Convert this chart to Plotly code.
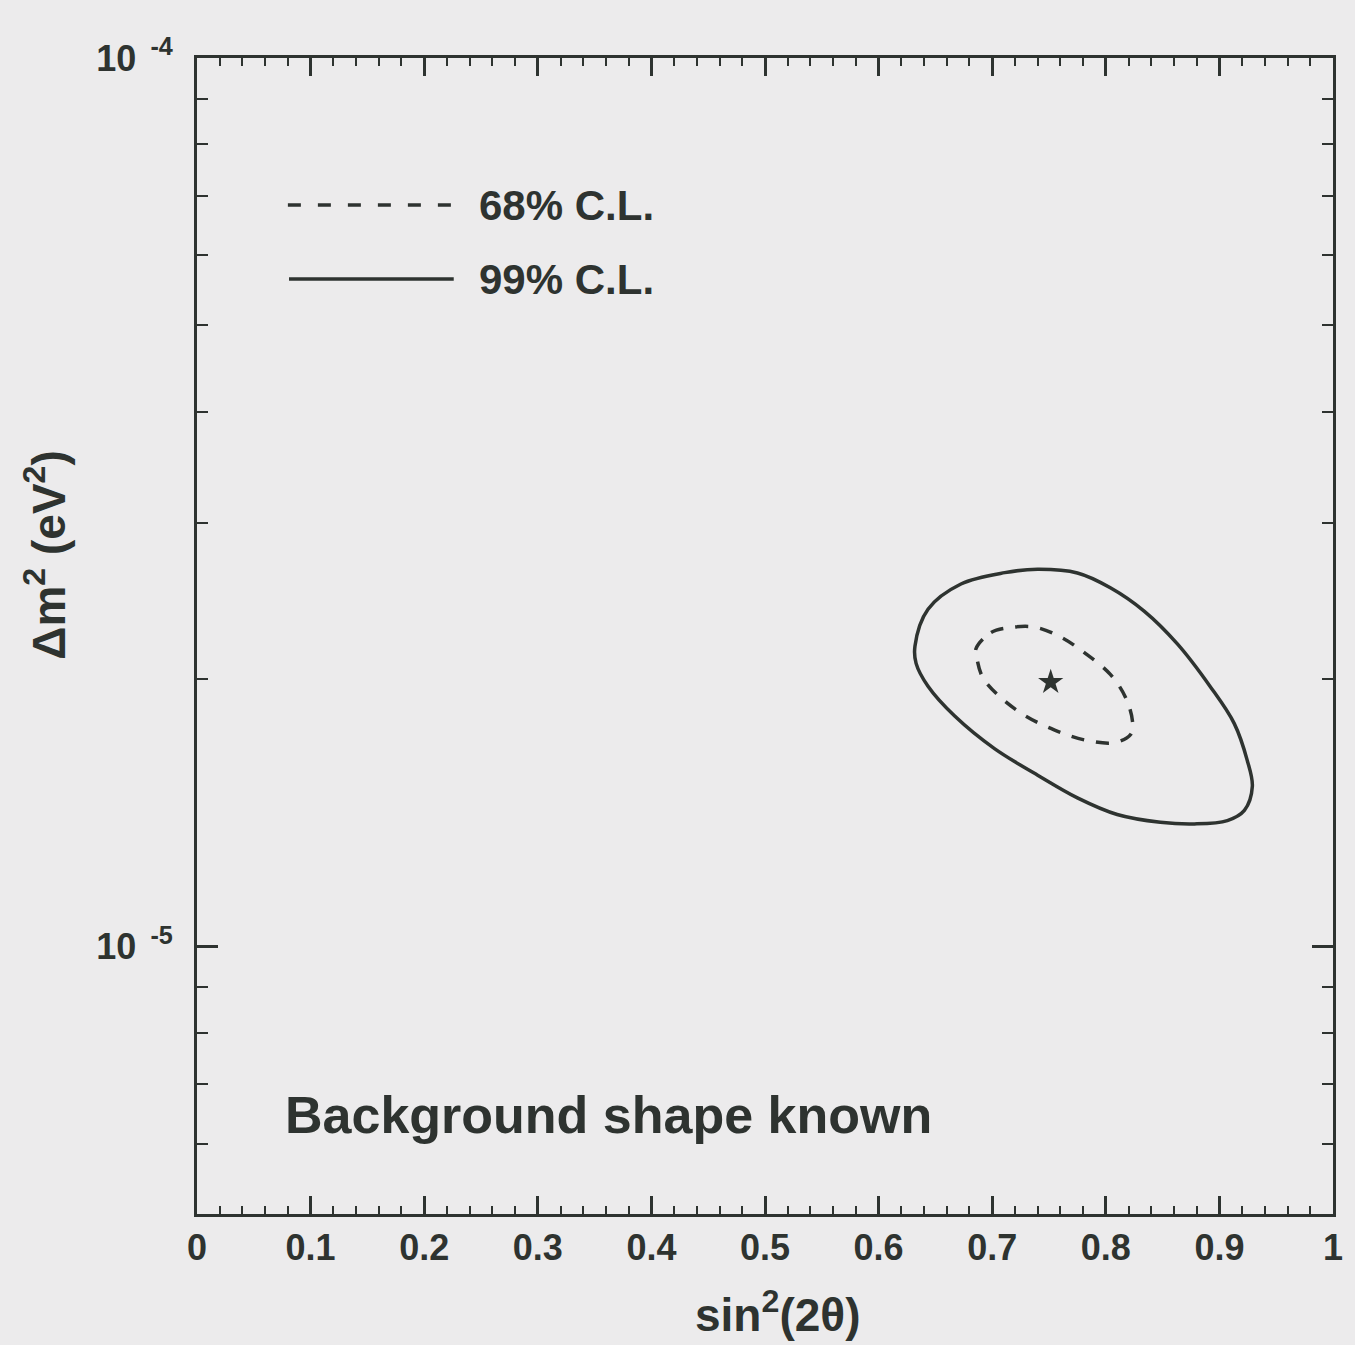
import plotly.graph_objects as go

# 99% C.L. contour (sin^2(2theta), delta m^2 [eV^2])
cl99_x = [0.632, 0.6435, 0.6725, 0.711, 0.740, 0.775, 0.804, 0.834, 0.863, 0.892, 0.913,
          0.9245, 0.929, 0.922, 0.907, 0.878, 0.848, 0.810, 0.775, 0.740, 0.702, 0.667,
          0.6435, 0.633]
cl99_y = [2.178e-5, 2.397e-5, 2.559e-5, 2.635e-5, 2.658e-5, 2.633e-5, 2.534e-5, 2.384e-5,
          2.191e-5, 1.961e-5, 1.783e-5, 1.620e-5, 1.514e-5, 1.423e-5, 1.386e-5, 1.374e-5,
          1.380e-5, 1.408e-5, 1.470e-5, 1.559e-5, 1.670e-5, 1.817e-5, 1.963e-5, 2.083e-5]

# 68% C.L. contour
cl68_x = [0.6857, 0.699, 0.7164, 0.7375, 0.7603, 0.7814, 0.804, 0.8174, 0.8235, 0.822,
          0.8077, 0.7814, 0.755, 0.7287, 0.7076, 0.6918, 0.6866]
cl68_y = [2.163e-5, 2.256e-5, 2.286e-5, 2.288e-5, 2.230e-5, 2.140e-5, 2.024e-5, 1.907e-5,
          1.792e-5, 1.733e-5, 1.696e-5, 1.708e-5, 1.752e-5, 1.820e-5, 1.906e-5, 2.007e-5,
          2.108e-5]

# best fit point
best_x = [0.7515]
best_y = [1.984e-5]

x_tick_vals = [0, 0.1, 0.2, 0.3, 0.4, 0.5, 0.6, 0.7, 0.8, 0.9, 1.0]
x_tick_text = ["0", "0.1", "0.2", "0.3", "0.4", "0.5", "0.6", "0.7", "0.8", "0.9", "1"]
y_tick_vals = [1e-5, 1e-4]
y_tick_text = ["10<sup>&nbsp;&nbsp;-5</sup>", "10<sup>&nbsp;&nbsp;-4</sup>"]
y_minor_vals = [m * 1e-6 for m in range(5, 10)] + [m * 1e-5 for m in range(2, 10)]

legend_labels = ["68% C.L.", "99% C.L."]
panel_label = "Background shape known"

INK = "#2e3330"
BG = "#ecebec"
FONT = "Liberation Sans, Arial, sans-serif"

fig = go.Figure()
fig.add_trace(go.Scatter(
    x=cl99_x + cl99_x[:1], y=cl99_y + cl99_y[:1], mode="lines",
    line=dict(color=INK, width=3.5, shape="spline", smoothing=1.0),
    showlegend=False, hoverinfo="skip"))
fig.add_trace(go.Scatter(
    x=cl68_x + cl68_x[:1], y=cl68_y + cl68_y[:1], mode="lines",
    line=dict(color=INK, width=3.5, shape="spline", smoothing=1.0, dash="13px,12px"),
    showlegend=False, hoverinfo="skip"))
fig.add_trace(go.Scatter(
    x=best_x, y=best_y, mode="markers",
    marker=dict(symbol="star", size=19, color=INK),
    showlegend=False, hoverinfo="skip"))

# legend drawn manually
fig.add_shape(type="line", xref="paper", yref="paper", x0=0.080, x1=0.226, y0=0.8728, y1=0.8728,
              line=dict(color=INK, width=3.5, dash="13px,17px"))
fig.add_shape(type="line", xref="paper", yref="paper", x0=0.081, x1=0.226, y0=0.8088, y1=0.8088,
              line=dict(color=INK, width=3.5))
fig.add_annotation(xref="paper", yref="paper", x=0.2465, y=0.8728, text=legend_labels[0],
                   showarrow=False, xanchor="left", yanchor="middle",
                   font=dict(size=42, color=INK, family=FONT, weight="bold"))
fig.add_annotation(xref="paper", yref="paper", x=0.2465, y=0.8088, text=legend_labels[1],
                   showarrow=False, xanchor="left", yanchor="middle",
                   font=dict(size=42, color=INK, family=FONT, weight="bold"))
fig.add_annotation(xref="paper", yref="paper", x=0.0755, y=0.0856, text=panel_label,
                   showarrow=False, xanchor="left", yanchor="middle",
                   font=dict(size=52, color=INK, family=FONT, weight="bold"))

# axis titles
fig.add_annotation(xref="paper", yref="paper", x=0.5114, y=-0.0848,
                   text="sin<sup>2</sup>(2θ)", showarrow=False,
                   xanchor="center", yanchor="middle",
                   font=dict(size=46, color=INK, family=FONT, weight="bold"))
fig.add_annotation(xref="paper", yref="paper", x=-0.1333, y=0.570,
                   text="Δm<sup>2</sup> (eV<sup>2</sup>)", showarrow=False, textangle=-90,
                   xanchor="center", yanchor="middle",
                   font=dict(size=46, color=INK, family=FONT, weight="bold"))

fig.update_layout(
    width=1355, height=1345,
    margin=dict(l=197, r=18, t=58, b=131),
    paper_bgcolor=BG, plot_bgcolor=BG,
    font=dict(family=FONT, color=INK, weight="bold"),
    showlegend=False,
)
fig.update_xaxes(
    range=[0, 1], tickmode="array", tickvals=x_tick_vals, ticktext=x_tick_text,
    ticks="inside", ticklen=18, tickwidth=2.5, tickcolor=INK,
    minor=dict(dtick=0.02, ticks="inside", ticklen=8, tickwidth=2, tickcolor=INK, showgrid=False),
    showline=True, linewidth=3, linecolor=INK, mirror="ticks",
    showgrid=False, zeroline=False,
    tickfont=dict(size=36, color=INK, family=FONT, weight="bold"),
    ticklabelstandoff=0,
)
fig.update_yaxes(
    type="log", range=[-5.30103, -4.0], tickmode="array", tickvals=y_tick_vals, ticktext=y_tick_text,
    ticks="inside", ticklen=21, tickwidth=2.5, tickcolor=INK,
    minor=dict(tickmode="array", tickvals=y_minor_vals, ticks="inside", ticklen=11,
               tickwidth=2, tickcolor=INK, showgrid=False),
    showline=True, linewidth=3, linecolor=INK, mirror="ticks",
    showgrid=False, zeroline=False,
    tickfont=dict(size=36, color=INK, family=FONT, weight="bold"),
    ticklabelstandoff=14,
)

fig.write_html("out.html")
